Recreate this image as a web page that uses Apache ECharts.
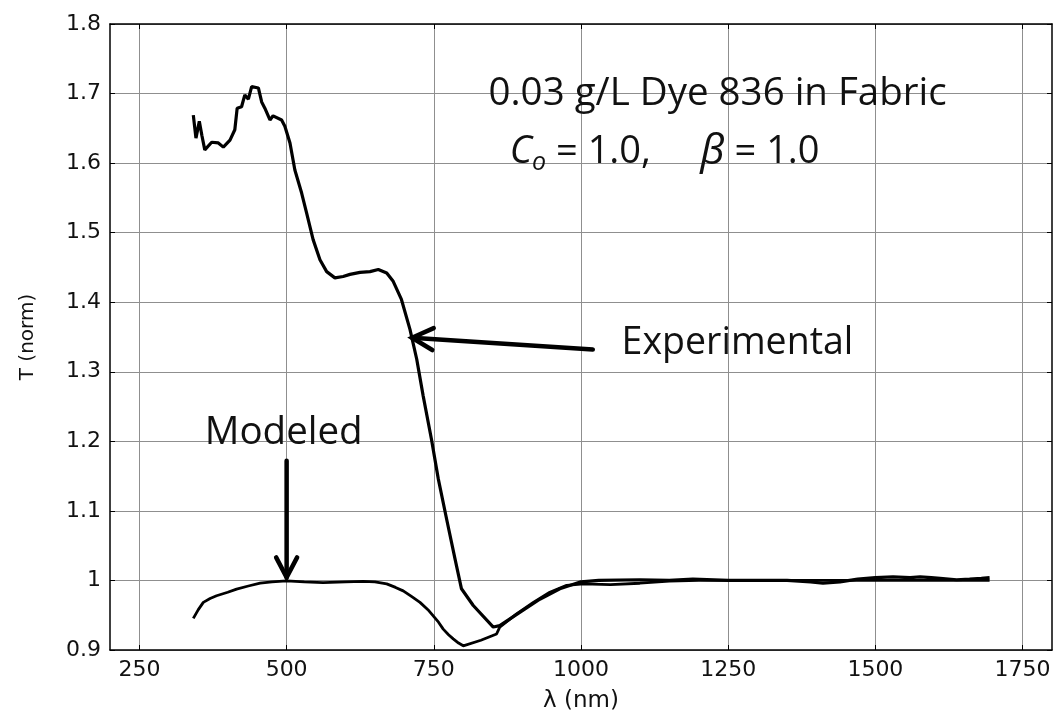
<!DOCTYPE html>
<html>
<head>
<meta charset="utf-8">
<script src="https://cdn.jsdelivr.net/npm/echarts@6/dist/echarts.min.js"></script>
<style>
  html, body { margin: 0; padding: 0; background: #ffffff; }
  #chart { width: 1058px; height: 715px; }
</style>
</head>
<body>
<div id="chart"></div>
<script>
// Measured transmittance, normalised (wavelength in nm)
const expLambda = [341.5, 346, 351.7, 356, 361, 372.7, 384, 392.5, 403.8, 412, 416, 423.5, 429, 435,
  440.6, 452, 457.6, 463, 471.7, 477, 491.5, 497, 505.7, 514, 525.5, 534, 545, 556.6, 568, 582, 596,
  607.6, 624.6, 641.6, 655.7, 670, 681, 695, 709.5, 721, 732, 746, 757.6, 771.8, 786, 797, 817, 851,
  862, 896, 930, 964, 1000, 1030, 1100, 1150, 1190, 1250, 1300, 1350, 1390, 1411, 1440, 1470, 1500,
  1530, 1559, 1576, 1595, 1610, 1638, 1660, 1680, 1694];
const expT = [1.669, 1.636, 1.660, 1.640, 1.619, 1.630, 1.629, 1.623, 1.633, 1.648, 1.679, 1.681, 1.698, 1.692,
  1.710, 1.708, 1.688, 1.679, 1.662, 1.668, 1.662, 1.653, 1.629, 1.590, 1.557, 1.528, 1.490, 1.461, 1.444, 1.435, 1.437,
  1.440, 1.443, 1.444, 1.447, 1.442, 1.430, 1.404, 1.361, 1.318, 1.265, 1.203, 1.146, 1.088, 1.031, 0.988, 0.964, 0.933,
  0.935, 0.954, 0.973, 0.988, 0.998, 1.000, 1.001, 1.000, 1.002, 1.000, 1.000, 1.000, 0.998, 0.996, 0.998, 1.002, 1.004,
  1.005, 1.004, 1.005, 1.004, 1.003, 1.001, 1.002, 1.003, 1.004];

// Model prediction (C_o = 1.0, beta = 1.0)
const modLambda = [341.5, 350, 358.5, 370, 381, 400, 415, 435, 455, 475, 500, 530, 562, 600, 630, 650, 670, 685,
  698, 712, 726.5, 740, 749, 758, 766, 775, 783, 792, 800, 830, 856.6, 862, 890.6, 919, 947, 975.6, 1004, 1050,
  1100, 1150, 1200, 1300, 1400, 1500, 1600, 1694];
const modT = [0.9455, 0.958, 0.9685, 0.974, 0.978, 0.983, 0.9876, 0.992, 0.996, 0.998, 0.9995, 0.998, 0.997, 0.998,
  0.9986, 0.998, 0.995, 0.990, 0.985, 0.977, 0.9685, 0.958, 0.949, 0.940, 0.930, 0.922, 0.916, 0.910, 0.906, 0.914,
  0.923, 0.933, 0.952, 0.9685, 0.983, 0.993, 0.995, 0.994, 0.996, 0.999, 1.000, 1.000, 1.000, 1.000, 1.000, 1.000];

const xTicks = [250, 500, 750, 1000, 1250, 1500, 1750];

// Annotation anchors in data units
const titleText = '0.03 g/L Dye 836 in Fabric';
const titleAt = [1232, 1.699];
const paramsAt = [879, 1.6156];
const expLabel = 'Experimental';
const expLabelAt = [1069, 1.3407];
const modLabel = 'Modeled';
const modLabelAt = [361, 1.212];
const expArrow = { tail: [1020, 1.332], tip: [713, 1.349] };
const modArrow = { tail: [500, 1.172], tip: [500, 1.0044] };

const pairs = (xs, ys) => xs.map((x, i) => [x, ys[i]]);

const tickFont = { fontFamily: 'DejaVu Sans', fontSize: 22, color: '#111' };
const axisBlack = { show: true, onZero: false, lineStyle: { color: '#000', width: 1.5 } };
const gridGray = { show: true, lineStyle: { color: '#8f8f8f', width: 1 } };
const plain = v => String(Math.round(v * 1000) / 1000);

const chart = echarts.init(document.getElementById('chart'), null, { renderer: 'canvas' });

chart.setOption({
  animation: false,
  backgroundColor: '#ffffff',
  grid: { left: 110, right: 6, top: 24, bottom: 65, containLabel: false, outerBoundsMode: 'none' },
  xAxis: [{
    type: 'value', min: 200, max: 1800, position: 'bottom',
    axisLine: axisBlack,
    axisTick: { show: true, inside: true, length: 5, customValues: xTicks, lineStyle: { color: '#000' } },
    axisLabel: Object.assign({ customValues: xTicks, margin: 9, formatter: plain }, tickFont),
    splitLine: gridGray,
    name: 'λ (nm)', nameLocation: 'middle', nameGap: 40,
    nameTextStyle: { fontFamily: 'DejaVu Sans', fontSize: 23, color: '#111' }
  }, {
    type: 'value', min: 200, max: 1800, position: 'top',
    axisLine: axisBlack,
    axisTick: { show: true, inside: true, length: 5, customValues: xTicks, lineStyle: { color: '#000' } },
    axisLabel: { show: false },
    splitLine: { show: false }
  }],
  yAxis: [{
    type: 'value', min: 0.9, max: 1.8, interval: 0.1, position: 'left',
    axisLine: axisBlack,
    axisTick: { show: true, inside: true, length: 5, lineStyle: { color: '#000' } },
    axisLabel: Object.assign({ margin: 9, formatter: plain }, tickFont),
    splitLine: gridGray,
    name: 'T (norm)', nameLocation: 'middle', nameGap: 72, nameRotate: 90,
    nameTextStyle: { fontFamily: 'DejaVu Sans', fontSize: 20, color: '#111' }
  }, {
    type: 'value', min: 0.9, max: 1.8, interval: 0.1, position: 'right',
    axisLine: axisBlack,
    axisTick: { show: true, inside: true, length: 5, lineStyle: { color: '#000' } },
    axisLabel: { show: false },
    splitLine: { show: false }
  }],
  series: [{
    name: 'Modeled', type: 'line', xAxisIndex: 0, yAxisIndex: 0,
    data: pairs(modLambda, modT), showSymbol: false, smooth: false,
    lineStyle: { color: '#000', width: 2.8 }, z: 3
  }, {
    name: 'Experimental', type: 'line', xAxisIndex: 0, yAxisIndex: 0,
    data: pairs(expLambda, expT), showSymbol: false, smooth: false,
    lineStyle: { color: '#000', width: 3.2 }, z: 4
  }]
});

// Annotations: titles, labels and arrows placed from data anchors
function px(p) { return chart.convertToPixel({ gridIndex: 0 }, p); }

function arrowShapes(a, headLen, headHalf) {
  const t = px(a.tail), h = px(a.tip);
  const dx = h[0] - t[0], dy = h[1] - t[1];
  const len = Math.hypot(dx, dy), ux = dx / len, uy = dy / len;
  const bx = h[0] - ux * headLen, by = h[1] - uy * headLen;
  const nx = -uy, ny = ux;
  const st = { stroke: '#000', lineWidth: 4.5, lineCap: 'round', lineJoin: 'miter', fill: null };
  return [
    { type: 'polyline', shape: { points: [t, h] }, style: st, z: 10 },
    { type: 'polyline', shape: { points: [[bx + nx * headHalf, by + ny * headHalf], h, [bx - nx * headHalf, by - ny * headHalf]] }, style: st, z: 10 }
  ];
}

const annFont = 'Open Sans';
const tP = px(titleAt), pP = px(paramsAt), eP = px(expLabelAt), mP = px(modLabelAt);

chart.setOption({
  graphic: [
    { type: 'text', x: tP[0], y: tP[1], z: 10,
      style: { text: titleText, fontFamily: annFont, fontSize: 38.5, fill: '#111', align: 'center', verticalAlign: 'middle' } },
    { type: 'text', x: pP[0], y: pP[1], z: 10,
      style: {
        text: '{c|C}{o|o}{n| = 1.0,     }{b|β}{n| = 1.0}',
        fontFamily: annFont, fontSize: 38, fill: '#111', align: 'left', verticalAlign: 'middle',
        rich: {
          c: { fontFamily: annFont, fontSize: 38, fontStyle: 'italic', fill: '#111' },
          o: { fontFamily: annFont, fontSize: 25, fontStyle: 'italic', fill: '#111', padding: [22, 0, 0, 0] },
          n: { fontFamily: annFont, fontSize: 38, fill: '#111' },
          b: { fontFamily: annFont, fontSize: 42, fontStyle: 'italic', fill: '#111' }
        }
      } },
    { type: 'text', x: eP[0], y: eP[1], z: 10,
      style: { text: expLabel, fontFamily: annFont, fontSize: 37.5, fill: '#111', align: 'left', verticalAlign: 'middle' } },
    { type: 'text', x: mP[0], y: mP[1], z: 10,
      style: { text: modLabel, fontFamily: annFont, fontSize: 38.5, fill: '#111', align: 'left', verticalAlign: 'middle' } }
  ].concat(arrowShapes(expArrow, 21, 11), arrowShapes(modArrow, 20, 10.5))
});
</script>
</body>
</html>
